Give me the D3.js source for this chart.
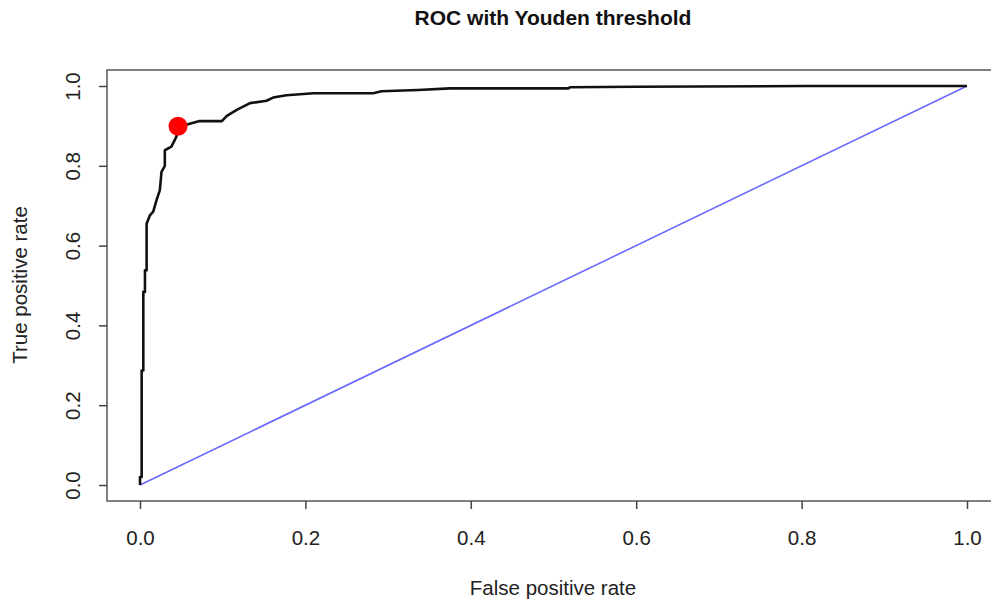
<!DOCTYPE html>
<html><head><meta charset="utf-8">
<script src="https://cdn.jsdelivr.net/npm/d3@7"></script>
<style>body{margin:0;background:#fff}svg{display:block}</style>
</head><body>
<script>
const fpr = [0,0,0.002,0.002,0.004,0.004,0.006,0.006,0.008,0.008,0.012,0.016,0.020,0.024,0.026,0.030,0.030,0.038,0.044,0.046,0.058,0.072,0.099,0.105,0.117,0.133,0.153,0.161,0.177,0.210,0.282,0.292,0.336,0.375,0.518,0.520,0.599,0.806,1.0];
const tpr = [0,0.02,0.02,0.287,0.287,0.484,0.484,0.538,0.538,0.655,0.676,0.685,0.714,0.739,0.785,0.800,0.839,0.848,0.873,0.899,0.904,0.912,0.912,0.925,0.940,0.957,0.963,0.971,0.977,0.982,0.982,0.987,0.990,0.994,0.994,0.997,0.998,1.0,1.0];
const youden = {fpr:0.046, tpr:0.899};
const chance = {fpr:[0,1], tpr:[0,1]};
const ticks = [0,0.2,0.4,0.6,0.8,1.0];
const title = "ROC with Youden threshold";
const xLabel = "False positive rate";
const yLabel = "True positive rate";

const W=991,H=603;
const svg=d3.select("body").append("svg").attr("width",W).attr("height",H);
const x=d3.scaleLinear().domain([0,1]).range([140,967]);
const y=d3.scaleLinear().domain([0,1]).range([485,86]);
const box={l:107,r:1000,t:70,b:501};
const txt="#222", font="'Liberation Sans', Arial, sans-serif";
const fs=20.5;

svg.append("rect").attr("x",box.l).attr("y",box.t).attr("width",box.r-box.l).attr("height",box.b-box.t)
  .attr("fill","none").attr("stroke","#555").attr("stroke-width",1.5);

// x axis
const xa=svg.append("g").attr("transform",`translate(0,${box.b})`)
  .call(d3.axisBottom(x).tickValues(ticks).tickFormat(d3.format(".1f")).tickSizeOuter(0).tickSizeInner(8).tickPadding(21));
xa.select(".domain").remove();
xa.selectAll("line").attr("stroke","#444").attr("stroke-width",1.5);
xa.selectAll("text").attr("font-family",font).attr("font-size",fs).attr("fill",txt);

// y axis
const ya=svg.append("g").attr("transform",`translate(${box.l},0)`)
  .call(d3.axisLeft(y).tickValues(ticks).tickFormat(d3.format(".1f")).tickSizeOuter(0).tickSizeInner(8).tickPadding(0));
ya.select(".domain").remove();
ya.selectAll("line").attr("stroke","#444").attr("stroke-width",1.5);
ya.selectAll("text").attr("font-family",font).attr("font-size",fs).attr("fill",txt)
  .attr("x",0).attr("dy",0).attr("text-anchor","middle")
  .attr("transform","translate(-35,0) rotate(-90)").attr("dominant-baseline","central");

// chance line
svg.append("line").attr("x1",x(chance.fpr[0])).attr("y1",y(chance.tpr[0])).attr("x2",x(chance.fpr[1])).attr("y2",y(chance.tpr[1]))
  .attr("stroke","#6a6aff").attr("stroke-width",1.6);

// ROC curve
const pts=fpr.map((f,i)=>[f,tpr[i]]);
svg.append("path").datum(pts).attr("d",d3.line().x(d=>x(d[0])).y(d=>y(d[1])))
  .attr("fill","none").attr("stroke","#111").attr("stroke-width",2.6).attr("stroke-linejoin","round");

svg.append("circle").attr("cx",x(youden.fpr)).attr("cy",y(youden.tpr)).attr("r",9.5).attr("fill","#ff0000");

svg.append("text").attr("x",553).attr("y",25).attr("text-anchor","middle").attr("font-family",font)
  .attr("font-weight","bold").attr("font-size",21).attr("fill","#111").text(title);
svg.append("text").attr("x",553).attr("y",595).attr("text-anchor","middle").attr("font-family",font)
  .attr("font-size",fs).attr("fill",txt).text(xLabel);
svg.append("text").attr("transform","translate(27,285) rotate(-90)").attr("text-anchor","middle").attr("font-family",font)
  .attr("font-size",fs).attr("fill",txt).text(yLabel);
</script>
</body></html>
